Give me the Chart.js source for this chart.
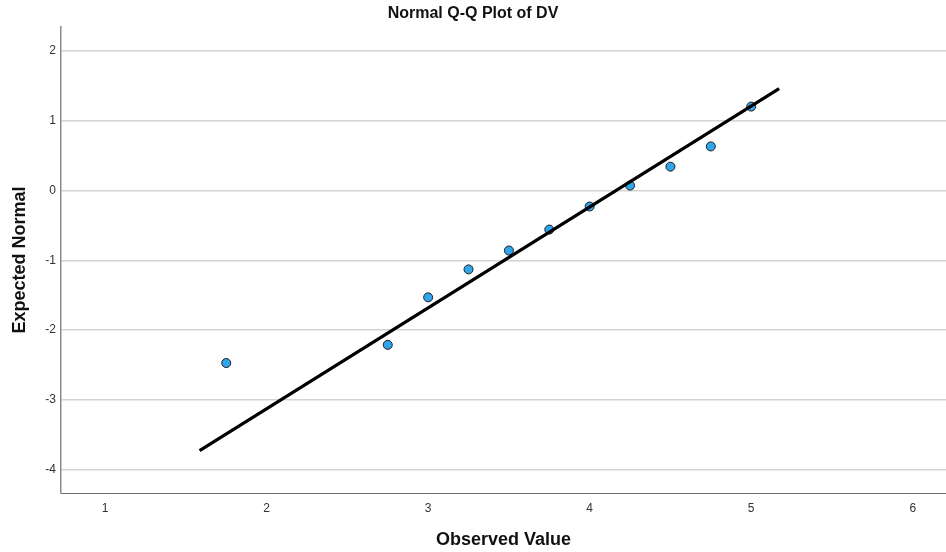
<!DOCTYPE html>
<html lang="en">
<head>
  <meta charset="UTF-8">
  <title>Normal Q-Q Plot of DV</title>
  <style>
    body {
      margin: 0;
      background-color: #ffffff;
    }
    #wrap {
      width: 946px;
      height: 552px;
    }
  </style>
  <script src="https://cdn.jsdelivr.net/npm/chart.js"></script>
</head>
<body>

<div id="wrap"><canvas id="myChart" width="946" height="552"></canvas></div>

<script>
  // observed values and expected normal scores
  const observed = [1.75, 2.75, 3.0, 3.25, 3.5, 3.75, 4.0, 4.25, 4.5, 4.75, 5.0];
  const expected = [-2.47, -2.21, -1.53, -1.13, -0.86, -0.56, -0.23, 0.07, 0.34, 0.63, 1.20];

  // reference line end points
  const lineX = [1.585, 5.173];
  const lineY = [-3.724, 1.457];

  const xTicks = [1, 2, 3, 4, 5, 6];
  const yTicks = [-4, -3, -2, -1, 0, 1, 2];

  const fontFamily = 'Arial, "Liberation Sans", sans-serif';

  const ctx = document.getElementById('myChart').getContext('2d');

  const chart = new Chart(ctx, {
    type: 'scatter',
    data: {
      datasets: [{
        label: 'Reference',
        type: 'line',
        data: lineX.map((x, i) => ({ x: x, y: lineY[i] })),
        borderColor: '#000000',
        borderWidth: 3.2,
        pointRadius: 0,
        fill: false,
        order: 0
      }, {
        label: 'DV',
        data: observed.map((x, i) => ({ x: x, y: expected[i] })),
        backgroundColor: '#31a5ec',
        borderColor: '#1c1c1c',
        borderWidth: 1,
        pointRadius: 4.5,
        order: 1
      }]
    },
    options: {
      responsive: false,
      animation: false,
      layout: { autoPadding: false, padding: 0 },
      scales: {
        x: {
          type: 'linear',
          min: 0.727,
          max: 6.206,
          afterBuildTicks: (scale) => {
            scale.ticks = xTicks.map(v => ({ value: v }));
          },
          afterFit: (scale) => { scale.height = 59; },
          grid: {
            display: false,
            drawTicks: false
          },
          border: {
            display: true,
            color: '#6e6e6e',
            width: 1
          },
          ticks: {
            padding: 8,
            color: '#333333',
            font: { family: fontFamily, size: 12 }
          },
          title: {
            display: true,
            text: 'Observed Value',
            color: '#111111',
            font: { family: fontFamily, size: 18, weight: 'bold' },
            padding: { top: 0, bottom: 1 }
          }
        },
        y: {
          type: 'linear',
          min: -4.33,
          max: 2.336,
          afterBuildTicks: (scale) => {
            scale.ticks = yTicks.map(v => ({ value: v }));
          },
          afterFit: (scale) => { scale.width = 61; },
          grid: {
            color: '#d4d4d4',
            lineWidth: 1.5,
            drawTicks: false
          },
          border: {
            display: true,
            color: '#8a8a8a',
            width: 1.5
          },
          ticks: {
            padding: 5,
            color: '#333333',
            font: { family: fontFamily, size: 12 }
          },
          title: {
            display: true,
            text: 'Expected Normal',
            color: '#111111',
            font: { family: fontFamily, size: 18, weight: 'bold' },
            padding: { top: 9, bottom: 0 }
          }
        }
      },
      plugins: {
        legend: { display: false },
        tooltip: { enabled: false },
        title: {
          display: true,
          text: 'Normal Q-Q Plot of DV',
          color: '#111111',
          font: { family: fontFamily, size: 16, weight: 'bold' },
          padding: { top: 4, bottom: 4 }
        }
      }
    }
  });
</script>

</body>
</html>
